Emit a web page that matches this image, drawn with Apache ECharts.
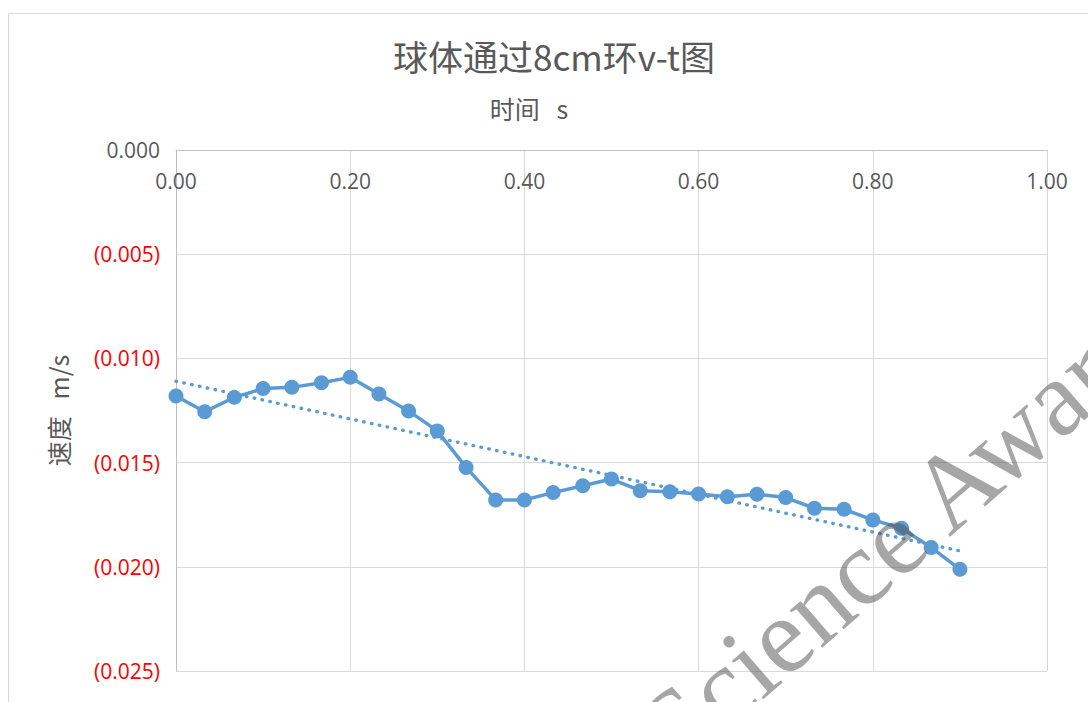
<!DOCTYPE html>
<html>
<head>
<meta charset="utf-8">
<title>球体通过8cm环v-t图</title>
<script src="https://cdn.jsdelivr.net/npm/echarts@6/dist/echarts.min.js"></script>
<style>
  html, body { margin: 0; padding: 0; background: #ffffff; }
  #chart { width: 1088px; height: 702px; }
</style>
</head>
<body>
<div id="chart"></div>
<script>
// time (s) of each sample
const times = [0.000, 0.033, 0.067, 0.100, 0.133, 0.167, 0.200, 0.233, 0.267, 0.300,
               0.333, 0.367, 0.400, 0.433, 0.467, 0.500, 0.533, 0.567, 0.600, 0.633,
               0.667, 0.700, 0.733, 0.767, 0.800, 0.833, 0.867, 0.900];
// measured speed (m/s)
const speeds = [-0.01180, -0.01256, -0.01187, -0.01145, -0.01139, -0.01117, -0.01091, -0.01171, -0.01252, -0.01348,
                -0.01523, -0.01679, -0.01679, -0.01644, -0.01611, -0.01579, -0.01635, -0.01640, -0.01651, -0.01664,
                -0.01652, -0.01668, -0.01719, -0.01724, -0.01775, -0.01815, -0.01907, -0.02012];

const titleText = '球体通过8cm环v-t图';
const xName = '时间   s';
const yName = '速度   m/s';
const watermark = 'Science Award';

// linear least-squares trend of speed over time
function linearFit(xs, ys) {
  const n = xs.length;
  let sx = 0, sy = 0, sxx = 0, sxy = 0;
  for (let i = 0; i < n; i++) {
    sx += xs[i]; sy += ys[i]; sxx += xs[i] * xs[i]; sxy += xs[i] * ys[i];
  }
  const b = (n * sxy - sx * sy) / (n * sxx - sx * sx);
  const a = (sy - b * sx) / n;
  return { a, b };
}
const fit = linearFit(times, speeds);
const tFirst = times[0], tLast = times[times.length - 1];
const trend = [[tFirst, fit.a + fit.b * tFirst], [tLast, fit.a + fit.b * tLast]];

const points = times.map((t, i) => [t, speeds[i]]);

const FONT = '"Noto Sans CJK SC", "Noto Sans", sans-serif';
const NUM_FONT = '"Open Sans", "Noto Sans", sans-serif';
const GREY = '#595959';
const BLUE = '#5b9bd5';

const chart = echarts.init(document.getElementById('chart'), null, { renderer: 'svg' });

chart.setOption({
  animation: false,
  backgroundColor: '#ffffff',
  textStyle: { fontFamily: FONT },
  grid: { left: 176, top: 150, right: 41, bottom: 31, containLabel: false },
  xAxis: {
    type: 'value',
    position: 'top',
    min: 0, max: 1, interval: 0.2,
    axisLine: { show: true, onZero: false, lineStyle: { color: '#bfbfbf', width: 1 } },
    axisTick: { show: false },
    axisLabel: {
      inside: true, margin: 20,
      fontFamily: NUM_FONT, fontSize: 21, color: GREY,
      formatter: v => v.toFixed(2)
    },
    splitLine: { show: true, lineStyle: { color: '#d9d9d9', width: 1 } }
  },
  yAxis: {
    type: 'value',
    min: -0.025, max: 0, interval: 0.005,
    name: yName,
    nameLocation: 'middle',
    nameGap: 106,
    nameRotate: 90,
    nameTextStyle: { fontFamily: FONT, fontSize: 25, color: GREY },
    axisLine: { show: true, onZero: false, lineStyle: { color: '#bfbfbf', width: 1 } },
    axisTick: { show: false },
    axisLabel: {
      margin: 16,
      fontFamily: NUM_FONT, fontSize: 21,
      color: v => (Number(v) < 0 ? '#ff0000' : GREY),
      formatter: v => (v < 0 ? '(' + Math.abs(v).toFixed(3) + ')' : Math.abs(v).toFixed(3))
    },
    splitLine: { show: true, lineStyle: { color: '#d9d9d9', width: 1 } }
  },
  series: [
    {
      name: '速度',
      type: 'line',
      data: points,
      symbol: 'circle',
      symbolSize: 15,
      itemStyle: { color: BLUE },
      lineStyle: { color: BLUE, width: 3.5 },
      z: 2
    },
    {
      name: '线性趋势',
      type: 'line',
      data: trend,
      showSymbol: false,
      symbol: 'none',
      lineStyle: { color: BLUE, width: 3.4, type: [0.5, 7.5], cap: 'round' },
      z: 3
    }
  ],
  graphic: [
    {
      type: 'rect',
      shape: { x: 8.5, y: 13.5, width: 1200, height: 800 },
      style: { fill: 'none', stroke: '#d9d9d9', lineWidth: 1 },
      silent: true, z: -10
    },
    {
      type: 'text',
      x: 554, y: 55,
      style: {
        text: titleText, fill: GREY, fontSize: 35, fontFamily: FONT,
        textAlign: 'center', textVerticalAlign: 'middle'
      },
      silent: true
    },
    {
      type: 'text',
      x: 529, y: 108,
      style: {
        text: xName, fill: GREY, fontSize: 25, fontFamily: FONT,
        textAlign: 'center', textVerticalAlign: 'middle'
      },
      silent: true
    },
    {
      type: 'text',
      x: 656, y: 744,
      rotation: 41 * Math.PI / 180,
      style: {
        text: watermark, fill: 'rgba(77,77,77,0.5)', fontSize: 108,
        fontFamily: '"Liberation Serif", "DejaVu Serif", serif',
        textAlign: 'left', textVerticalAlign: 'middle'
      },
      silent: true, z: 100
    }
  ]
});
</script>
</body>
</html>
